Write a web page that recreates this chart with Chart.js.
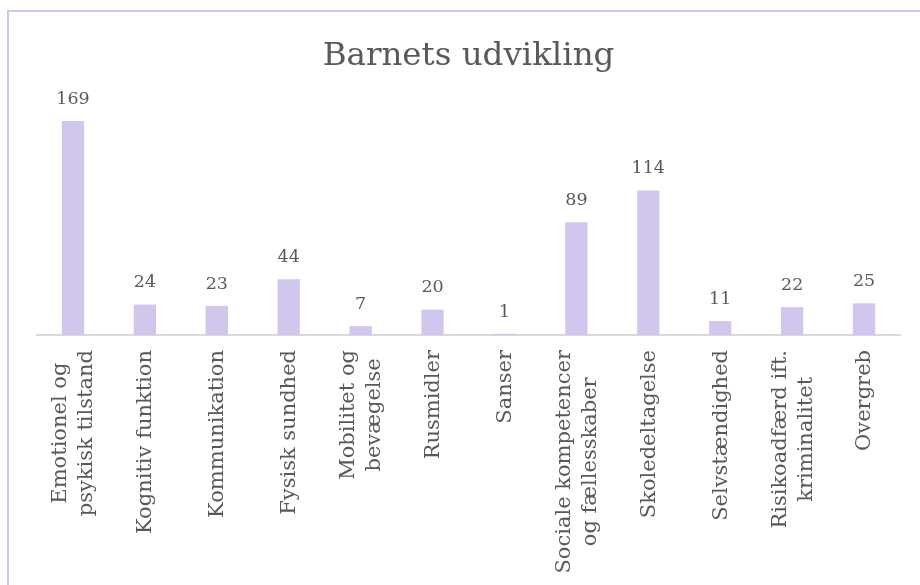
<!DOCTYPE html>
<html>
<head>
<meta charset="utf-8">
<script src="https://cdn.jsdelivr.net/npm/chart.js@4/dist/chart.umd.min.js"></script>
<style>
  html, body { margin:0; padding:0; background:#fff; overflow:hidden; }
  #frame { position:absolute; left:7px; top:10px; width:1000px; height:1000px;
           border-left:2px solid #d0c6ee; border-top:2px solid #d0c6ee; }
  #mycanvas { position:absolute; left:0; top:0; }
</style>
</head>
<body>
<div id="frame"></div>
<canvas id="mycanvas" width="920" height="585"></canvas>
<script>
var categories = [
  ["Emotionel og", "psykisk tilstand"],
  "Kognitiv funktion",
  "Kommunikation",
  "Fysisk sundhed",
  ["Mobilitet og", "bevægelse"],
  "Rusmidler",
  "Sanser",
  ["Sociale kompetencer", "og fællesskaber"],
  "Skoledeltagelse",
  "Selvstændighed",
  ["Risikoadfærd ift.", "kriminalitet"],
  "Overgreb"
];
var counts = [169, 24, 23, 44, 7, 20, 1, 89, 114, 11, 22, 25];
var chartTitle = "Barnets udvikling";

var textColor = '#595959';
var barColor = '#d0c6ee';

// value labels over each bar
var valueLabels = {
  id: 'valueLabels',
  afterDatasetsDraw: function(chart){
    var ctx = chart.ctx;
    var meta = chart.getDatasetMeta(0);
    ctx.save();
    ctx.font = '17.5px "DejaVu Serif"';
    ctx.fillStyle = textColor;
    ctx.textAlign = 'center';
    ctx.textBaseline = 'bottom';
    meta.data.forEach(function(bar, i){
      ctx.fillText(counts[i], bar.x, bar.y - 13);
    });
    ctx.restore();
  }
};

// rotated category labels, lines centred like in excel
var catLabels = {
  id: 'catLabels',
  afterDraw: function(chart){
    var ctx = chart.ctx;
    var scale = chart.scales.x;
    var lh = 26;
    ctx.save();
    ctx.font = '21px "DejaVu Serif"';
    ctx.fillStyle = textColor;
    ctx.textAlign = 'center';
    ctx.textBaseline = 'middle';
    categories.forEach(function(lab, i){
      var lines = Array.isArray(lab) ? lab : [lab];
      var maxW = 0;
      lines.forEach(function(l){ maxW = Math.max(maxW, ctx.measureText(l).width); });
      ctx.save();
      ctx.translate(scale.getPixelForTick(i) + 1, scale.top + 15);
      ctx.rotate(-Math.PI / 2);
      lines.forEach(function(l, j){
        ctx.fillText(l, -maxW / 2, (j - (lines.length - 1) / 2) * lh);
      });
      ctx.restore();
    });
    ctx.restore();
  }
};

var ctx = document.getElementById('mycanvas');
var barGraph = new Chart(ctx, {
  type: 'bar',
  data: {
    labels: categories,
    datasets: [{
      data: counts,
      backgroundColor: barColor,
      borderWidth: 0,
      barPercentage: 0.31,
      categoryPercentage: 1
    }]
  },
  options: {
    responsive: false,
    animation: false,
    layout: { padding: { left: 37, right: 20, top: 0, bottom: 0 } },
    plugins: {
      legend: { display: false },
      tooltip: { enabled: false },
      title: {
        display: true,
        text: chartTitle,
        color: textColor,
        font: { family: 'DejaVu Serif', size: 32.5, weight: 'normal', lineHeight: 1.2 },
        padding: { top: 37, bottom: 31 }
      }
    },
    scales: {
      y: { display: false, min: 0, max: 180 },
      x: {
        grid: { display: false },
        border: { display: true, color: '#d9d9d9', width: 2 },
        ticks: { display: false },
        afterFit: function(scale){ scale.height = 250; }
      }
    }
  },
  plugins: [valueLabels, catLabels]
});
</script>
</body>
</html>
